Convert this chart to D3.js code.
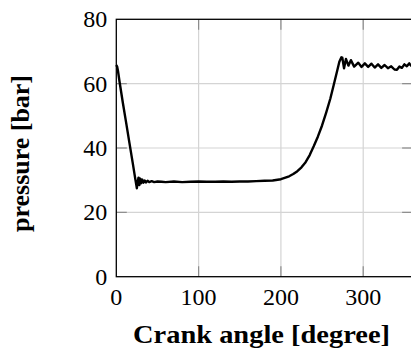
<!DOCTYPE html>
<html><head><meta charset="utf-8">
<script src="https://cdn.jsdelivr.net/npm/d3@7"></script>
<style>
html,body{margin:0;padding:0;background:#fff;}
svg{display:block;}
text{font-family:"Liberation Serif","DejaVu Serif",serif;fill:#000;}
</style></head>
<body>
<svg id="chart" width="411" height="354"></svg>
<script>
// ---- data ----
const crankAngle = [0,1,2,4,8,12,16,20,23,25,26,27,28,29,30,31.5,33,34.5,36,38,40,43,46,50,55,60,70,80,90,100,110,120,130,140,150,160,170,180,190,200,210,215,220,225,230,235,240,245,250,255,260,264,268,271,273.5,274.6,276.7,279,282,285,289,294,298,302,306,310,314,318,322,326,330,334,338,341,344,347,350,353,356,358,360];
const pressure   = [65.8,65.3,64,60.5,54,47.8,41.5,35.3,30.5,27.5,29.5,30.8,28.5,30.5,29,30.2,29.2,29.9,29.3,29.8,29.4,29.7,29.4,29.6,29.5,29.4,29.6,29.4,29.5,29.6,29.5,29.5,29.6,29.5,29.6,29.6,29.7,29.8,29.9,30.3,31.2,31.9,32.8,34.0,35.6,37.8,40.6,43.6,47.0,51.0,55.3,59.4,63.6,66.8,68.2,68.1,64.8,67.7,65.6,67.3,65.3,66.5,65.2,66.3,65.2,66.2,65.0,66.0,64.9,65.8,64.8,65.4,64.4,64.3,65.3,64.9,66.0,65.4,66.3,65.6,65.8];
const xTicks = [0,100,200,300];
const yTicks = [0,20,40,60,80];
const xDomain = [0,360];
const yDomain = [0,80];
const xTitle = "Crank angle [degree]";
const yTitle = "pressure [bar]";

// ---- layout ----
const svg = d3.select("#chart");
const pL = 116.3, pR = 412.6, pT = 19.3, pB = 276.7;
const x = d3.scaleLinear().domain(xDomain).range([pL,pR]);
const y = d3.scaleLinear().domain(yDomain).range([pB,pT]);
const tickLen = 10.5;

// grid
const g = svg.append("g");
g.selectAll(".gx").data(xTicks.filter(d=>d>0)).join("line")
  .attr("x1",d=>x(d)).attr("x2",d=>x(d)).attr("y1",pT).attr("y2",pB)
  .attr("stroke","#d4d4d4").attr("stroke-width",1.2);
g.selectAll(".gy").data(yTicks.filter(d=>d>0&&d<80)).join("line")
  .attr("x1",pL).attr("x2",pR).attr("y1",d=>y(d)).attr("y2",d=>y(d))
  .attr("stroke","#d4d4d4").attr("stroke-width",1.2);

// inward ticks
const tk = svg.append("g").attr("stroke","#8c8c8c").attr("stroke-width",1.2);
xTicks.filter(d=>d>0).forEach(d=>{
  tk.append("line").attr("x1",x(d)).attr("x2",x(d)).attr("y1",pT).attr("y2",pT+tickLen);
  tk.append("line").attr("x1",x(d)).attr("x2",x(d)).attr("y1",pB).attr("y2",pB-tickLen);
});
yTicks.filter(d=>d>0&&d<80).forEach(d=>{
  tk.append("line").attr("x1",pL).attr("x2",pL+tickLen).attr("y1",y(d)).attr("y2",y(d));
  tk.append("line").attr("x1",pR).attr("x2",pR-tickLen).attr("y1",y(d)).attr("y2",y(d));
});

// frame
svg.append("rect").attr("x",pL).attr("y",pT).attr("width",pR-pL).attr("height",pB-pT)
  .attr("fill","none").attr("stroke","#000").attr("stroke-width",1.3);

// curve
const pts = crankAngle.map((a,i)=>[a,pressure[i]]);
svg.append("path").datum(pts)
  .attr("d", d3.line().x(d=>x(d[0])).y(d=>y(d[1])).curve(d3.curveLinear))
  .attr("fill","none").attr("stroke","#000").attr("stroke-width",2.4).attr("stroke-linejoin","round");

// tick labels
svg.selectAll(".xl").data(xTicks).join("text")
  .attr("x",d=>x(d)).attr("y",pB+28).attr("text-anchor","middle")
  .attr("font-size",24).text(d=>d);
svg.selectAll(".yl").data(yTicks).join("text")
  .attr("x",pL-9).attr("y",d=>y(d)+8).attr("text-anchor","end")
  .attr("font-size",24).text(d=>d);

// titles
svg.append("text").attr("x",133).attr("y",343).attr("text-anchor","start")
  .attr("font-size",25).attr("font-weight","bold")
  .attr("textLength",257).attr("lengthAdjust","spacingAndGlyphs").text(xTitle);
svg.append("text").attr("transform",`translate(29,232) rotate(-90)`)
  .attr("text-anchor","start").attr("font-size",25).attr("font-weight","bold")
  .attr("textLength",157).attr("lengthAdjust","spacingAndGlyphs").text(yTitle);
</script>
</body></html>
